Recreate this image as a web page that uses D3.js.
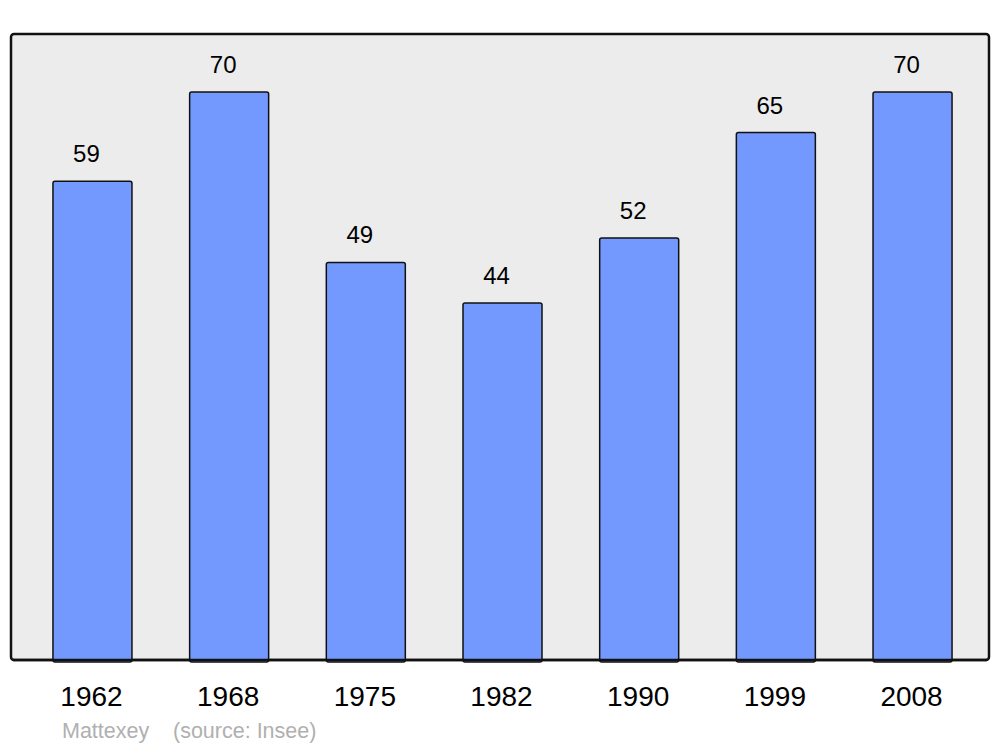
<!DOCTYPE html>
<html>
<head>
<meta charset="utf-8">
<script src="https://cdn.jsdelivr.net/npm/d3@7"></script>
<style>
  html, body { margin: 0; padding: 0; background: #fff; }
  svg { display: block; font-family: "Liberation Sans", Arial, sans-serif; }
</style>
</head>
<body>
<div id="chart"></div>
<script>
// ── Data ────────────────────────────────────────────────────────────────
const YEARS = ['1962', '1968', '1975', '1982', '1990', '1999', '2008'];
const POPULATION = [59, 70, 49, 44, 52, 65, 70];
const CREDITS = ['Mattexey', '(source: Insee)'];

(function () {
  'use strict';

  const width = 1000;
  const height = 747;
  const frame = { left: 11, top: 34, right: 989, bottom: 660 };

  const svg = d3.select('#chart')
    .append('svg')
    .attr('width', width)
    .attr('height', height);

  // Plot frame
  svg.append('rect')
    .attr('x', frame.left)
    .attr('y', frame.top)
    .attr('width', frame.right - frame.left)
    .attr('height', frame.bottom - frame.top)
    .attr('rx', 3)
    .attr('fill', '#ececec')
    .attr('stroke', '#111')
    .attr('stroke-width', 2.5);

  const xScale = d3.scaleBand()
    .domain(YEARS)
    .range([11, 994])
    .paddingInner(0.422)
    .paddingOuter(0.307);

  const yScale = d3.scaleLinear()
    .domain([0, 70])
    .range([frame.bottom, 92]);

  const data = YEARS.map((y, i) => ({ year: y, value: POPULATION[i] }));

  // Bars
  svg.selectAll('.bar')
    .data(data)
    .enter()
    .append('rect')
    .attr('class', 'bar')
    .attr('x', d => xScale(d.year))
    .attr('y', d => yScale(d.value))
    .attr('width', xScale.bandwidth())
    .attr('height', d => yScale(0) - yScale(d.value) + 2)
    .attr('rx', 2)
    .attr('fill', '#7399ff')
    .attr('stroke', '#111')
    .attr('stroke-width', 1.5);

  // Redraw frame bottom edge over the bars
  svg.append('line')
    .attr('x1', frame.left + 2).attr('x2', frame.right - 2)
    .attr('y1', frame.bottom).attr('y2', frame.bottom)
    .attr('stroke', '#111')
    .attr('stroke-width', 2.5);

  // Value labels
  svg.selectAll('.bar-label')
    .data(data)
    .enter()
    .append('text')
    .attr('class', 'bar-label')
    .attr('x', d => xScale(d.year) + xScale.bandwidth() / 2 - 6)
    .attr('y', d => yScale(d.value) - 19)
    .attr('text-anchor', 'middle')
    .attr('font-size', 24)
    .attr('fill', '#000')
    .text(d => d.value);

  // Year axis
  const axis = svg.append('g')
    .attr('transform', `translate(-1,${frame.bottom})`)
    .call(d3.axisBottom(xScale).tickSize(0).tickPadding(0));
  axis.select('.domain').remove();
  axis.selectAll('text')
    .attr('y', 46)
    .attr('dy', 0)
    .attr('font-size', 28)
    .attr('font-family', '"Liberation Sans", Arial, sans-serif')
    .attr('fill', '#000');

  // Credits
  svg.append('text')
    .attr('x', 62)
    .attr('y', 738)
    .attr('font-size', 21.5)
    .attr('fill', '#b0b0b0')
    .text(CREDITS[0]);
  svg.append('text')
    .attr('x', 173)
    .attr('y', 738)
    .attr('font-size', 21.5)
    .attr('fill', '#b0b0b0')
    .text(CREDITS[1]);
})();
</script>
</body>
</html>
